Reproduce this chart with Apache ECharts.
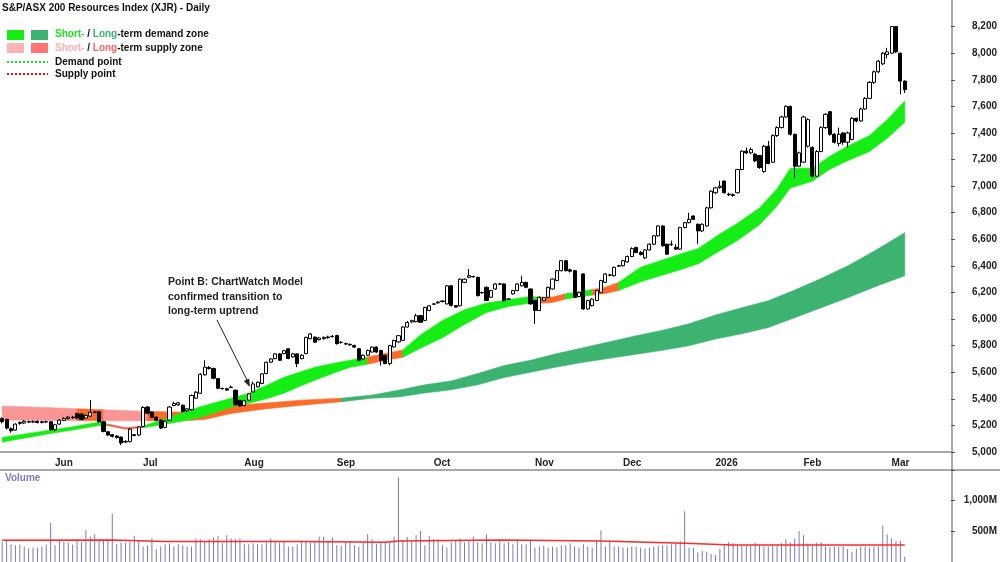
<!DOCTYPE html>
<html>
<head>
<meta charset="utf-8">
<script src="https://cdn.jsdelivr.net/npm/echarts@6/dist/echarts.min.js"></script>
<style>
html, body { margin: 0; padding: 0; background: #fff; }
#chart { width: 1000px; height: 562px; }
</style>
</head>
<body>
<div id="chart"></div>
<script>
// daily candles, [open, close, low, high]
const ohlc = [
  [5250,5228,5215,5262],[5245,5180,5170,5250],[5175,5160,5145,5185],[5165,5210,5160,5215],[5215,5222,5205,5230],
  [5218,5232,5212,5240],[5228,5225,5218,5236],[5226,5230,5220,5238],[5230,5222,5215,5240],[5222,5228,5215,5235],
  [5228,5226,5218,5236],[5228,5168,5160,5232],[5168,5205,5155,5212],[5210,5240,5205,5248],[5238,5252,5232,5262],
  [5250,5262,5245,5270],[5262,5258,5250,5272],[5290,5255,5248,5296],[5285,5245,5240,5292],[5255,5275,5250,5280],
  [5270,5298,5262,5390],[5298,5302,5290,5310],[5302,5228,5222,5306],[5228,5155,5148,5232],[5152,5128,5120,5158],
  [5130,5118,5110,5136],[5120,5110,5100,5128],[5112,5068,5052,5116],[5075,5080,5068,5088],[5078,5172,5072,5180],
  [5130,5125,5118,5135],[5128,5188,5122,5192],[5192,5335,5185,5345],[5338,5292,5285,5345],[5300,5262,5255,5305],
  [5262,5240,5232,5268],[5240,5180,5172,5245],[5185,5232,5178,5240],[5240,5338,5235,5345],[5350,5364,5345,5378],
  [5355,5370,5348,5376],[5352,5305,5298,5358],[5310,5325,5300,5332],[5318,5425,5312,5432],[5405,5450,5400,5458],
  [5442,5585,5438,5592],[5580,5638,5575,5690],[5636,5628,5620,5648],[5628,5555,5548,5634],[5552,5480,5472,5556],
  [5478,5476,5470,5485],[5476,5466,5460,5482],[5488,5486,5480,5500],[5465,5355,5348,5470],[5388,5346,5340,5392],
  [5350,5385,5342,5392],[5390,5438,5385,5442],[5452,5512,5448,5530],[5490,5525,5485,5530],[5515,5588,5510,5592],
  [5590,5675,5585,5680],[5676,5700,5670,5706],[5702,5738,5698,5742],[5738,5690,5685,5745],[5740,5762,5735,5768],
  [5776,5703,5698,5782],[5715,5738,5710,5745],[5738,5665,5638,5742],[5702,5728,5698,5735],[5740,5862,5736,5868],
  [5852,5888,5848,5895],[5864,5826,5820,5870],[5845,5858,5838,5866],[5852,5862,5845,5870],[5865,5860,5852,5875],
  [5870,5868,5860,5880],[5876,5815,5808,5882],[5826,5824,5815,5832],[5815,5812,5805,5822],[5810,5806,5798,5816],
  [5801,5789,5782,5808],[5777,5690,5682,5782],[5700,5728,5695,5735],[5728,5764,5722,5770],[5752,5789,5748,5795],
  [5789,5752,5745,5795],[5764,5690,5651,5768],[5727,5665,5660,5732],[5665,5800,5652,5806],[5790,5839,5785,5845],
  [5828,5875,5822,5880],[5840,5940,5835,5946],[5940,5975,5935,5985],[5978,5988,5972,5995],[5980,6025,5975,6040],
  [6026,5976,5970,6030],[5990,6088,5985,6092],[6064,6100,6060,6106],[6112,6114,6105,6120],[6122,6128,6115,6134],
  [6136,6132,6125,6142],[6114,6250,6110,6256],[6250,6102,6095,6256],[6101,6090,6084,6106],[6100,6300,6095,6306],
  [6276,6300,6270,6306],[6314,6326,6308,6376],[6320,6318,6312,6326],[6314,6176,6170,6318],[6200,6198,6190,6206],
  [6239,6140,6135,6245],[6164,6214,6160,6220],[6226,6264,6220,6270],[6262,6265,6255,6272],[6264,6139,6132,6268],
  [6150,6150,6145,6158],[6189,6214,6185,6220],[6214,6264,6210,6270],[6250,6276,6245,6326],[6276,6239,6232,6282],
  [6226,6114,6108,6230],[6139,6064,5964,6144],[6064,6164,6060,6170],[6140,6160,6135,6165],[6164,6239,6160,6244],
  [6226,6301,6222,6306],[6289,6364,6285,6370],[6364,6439,6358,6445],[6439,6364,6358,6445],[6370,6360,6350,6380],
  [6364,6164,6158,6370],[6170,6200,6165,6206],[6339,6076,6070,6345],[6076,6139,6070,6145],[6100,6150,6095,6156],
  [6139,6214,6135,6220],[6201,6289,6196,6295],[6276,6339,6272,6345],[6330,6332,6322,6340],[6326,6389,6320,6395],
  [6398,6401,6392,6408],[6401,6439,6396,6445],[6430,6470,6425,6478],[6470,6530,6465,6540],[6538,6500,6495,6545],
  [6500,6485,6478,6512],[6460,6520,6451,6526],[6520,6563,6515,6570],[6563,6626,6558,6632],[6626,6700,6620,6705],
  [6700,6551,6545,6705],[6563,6488,6482,6568],[6560,6563,6550,6590],[6540,6526,6520,6563],[6526,6688,6520,6694],
  [6688,6725,6682,6730],[6725,6750,6720,6800],[6775,6750,6745,6780],[6713,6663,6563,6718],[6663,6713,6655,6720],
  [6700,6837,6695,6845],[6837,6962,6830,6968],[6950,6987,6940,6995],[6990,7000,6980,7040],[7038,6950,6945,7042],
  [6940,6935,6925,6950],[6935,6930,6920,6945],[6950,7125,6945,7130],[7125,7263,7120,7270],[7263,7250,7240,7290],
  [7250,7275,7240,7290],[7240,7190,7180,7250],[7230,7140,7130,7235],[7110,7300,7100,7310],[7300,7170,7165,7340],
  [7180,7380,7175,7390],[7380,7440,7370,7450],[7440,7520,7435,7530],[7520,7600,7515,7608],[7600,7390,7380,7605],
  [7390,7150,7060,7395],[7150,7250,7145,7260],[7180,7520,7175,7530],[7300,7500,7290,7510],[7290,7075,7065,7300],
  [7075,7260,7070,7270],[7260,7440,7255,7450],[7440,7540,7430,7550],[7560,7390,7380,7565],[7390,7330,7320,7400],
  [7320,7390,7300,7440],[7400,7330,7310,7405],[7330,7400,7290,7410],[7350,7510,7345,7520],[7510,7490,7480,7515],
  [7490,7580,7485,7590],[7580,7660,7575,7670],[7660,7780,7655,7790],[7780,7860,7770,7870],[7860,7940,7850,7950],
  [7920,8000,7910,8010],[7990,8010,7960,8040],[8000,8200,7995,8205],[8200,8010,8000,8205],[8000,7790,7690,8005],
  [7790,7725,7700,7795]
];

// daily volume, millions
const volume = [
  328,371,290,274,285,253,220,231,237,253, 285,640,274,344,328,317,285,371,328,516,
  414,452,371,344,355,790,290,317,317,328, 425,344,253,274,387,210,253,290,306,253,
  290,274,253,253,382,371,328,371,398,425, 317,435,382,371,387,290,290,306,290,290,
  317,382,328,317,328,253,253,290,328,344, 344,344,414,414,328,398,274,263,328,344,
  274,253,317,452,371,290,317,317,317,414, 1382,344,409,344,435,505,274,425,371,371,
  274,237,317,344,382,317,344,414,317,306, 452,317,306,360,
  306,328,290,371,290,290,360,237,253,263, 237,253,237,274,274,306,253,237,290,253,
  237,344,516,253,328,253,253,237,237,253, 253,237,220,237,253,263,274,274,290,306,
  344,828,237,237,156,183,167,129,113,210, 274,328,306,274,274,274,274,317,274,253,
  253,274,274,306,371,317,382,505,435,306, 274,317,328,253,237,253,253,253,210,167,
  220,253,253,237,253,253,597,452,382,344, 344,86
];

// volume average line (red), knots
const volAvgIdx = [0, 25, 37, 68, 87, 90, 113, 136, 155, 166, 205];
const volAvg = [355, 360, 333, 333, 322, 344, 360, 344, 306, 279, 279];

// short-term zone edges, knots
const stIdx = [0,6,11,16,22,24,28,32,38,45,52,56,60,64,68,71,75,79,83,87,91,95,100,105,110,115,120,122,125,128,131,134,137,140,145,151,154,158,163,167,172,176,179,184,188,192,197,201,205];
const stLow = [5075,5110,5140,5165,5200,5198,5172,5182,5215,5260,5337,5367,5400,5442,5500,5540,5590,5637,5660,5690,5712,5780,5860,5960,6050,6095,6120,6118,6125,6150,6165,6180,6192,6215,6280,6340,6370,6415,6513,6590,6710,6850,6985,7037,7127,7190,7260,7360,7480];
const stHigh = [5110,5140,5165,5190,5225,5210,5182,5196,5262,5340,5405,5442,5500,5562,5605,5637,5665,5690,5715,5740,5768,5880,5990,6070,6120,6145,6170,6165,6165,6190,6205,6222,6240,6275,6390,6455,6490,6528,6640,6720,6835,6980,7135,7135,7225,7300,7380,7500,7640];
const stZones = [[0,24,'demand'],[24,32,'supply'],[32,83,'demand'],[83,91,'neutral'],[91,122,'demand'],[122,128,'neutral'],[128,134,'demand'],[134,140,'neutral'],[140,205,'demand']];

// long-term zone edges, knots
const ltIdx = [0,10,17,23,33,40,46,52,60,68,77,84,90,96,102,108,114,120,126,132,138,144,150,156,162,168,174,180,186,192,198,205];
const ltLow = [5240,5238,5236,5235,5235,5232,5245,5290,5325,5352,5378,5405,5414,5444,5468,5505,5560,5600,5640,5675,5705,5735,5765,5800,5850,5890,5936,6010,6085,6160,6240,6326];
const ltHigh = [5345,5335,5325,5318,5305,5300,5312,5350,5368,5390,5405,5428,5465,5505,5535,5590,5650,5690,5740,5785,5830,5875,5915,5965,6030,6085,6138,6218,6305,6400,6510,6650];
const ltZones = [[0,17,'supply'],[17,23,'neutral'],[23,33,'supply'],[33,77,'neutral'],[77,205,'demand']];

// x axis: first trading day of each month
const monthStarts = [12, 32, 55, 76, 98, 121, 141, 162, 182, 202];
const monthLabels = ['Jun', 'Jul', 'Aug', 'Sep', 'Oct', 'Nov', 'Dec', '2026', 'Feb', 'Mar'];
const slotCount = 216;

const FONT = '"Liberation Sans", Arial, sans-serif';
const stColors = { demand: '#14ee14', supply: '#ff5a4a', neutral: '#ff6a28' };
const ltColors = { demand: '#3cb371', supply: '#f99595', neutral: '#ff6a28' };

const slots = [];
for (let i = 0; i < slotCount; i++) slots.push(String(i));

function zoneSeries(idx, lo, hi, zones, colors, z) {
  return {
    type: 'custom',
    xAxisIndex: 0,
    yAxisIndex: 0,
    silent: true,
    z: z,
    data: zones.map(zn => [zn[0], lo[idx.indexOf(zn[0])]]),
    renderItem: function (params, api) {
      const zn = zones[params.dataIndex];
      const lower = [], upper = [];
      idx.forEach((k, j) => {
        if (k >= zn[0] && k <= zn[1]) {
          lower.push(api.coord([k, lo[j]]));
          upper.push(api.coord([k, hi[j]]));
        }
      });
      return {
        type: 'polygon',
        shape: { points: lower.concat(upper.reverse()) },
        style: { fill: colors[zn[2]], stroke: colors[zn[2]], lineWidth: 0.6 }
      };
    }
  };
}

const chart = echarts.init(document.getElementById('chart'));

const labelStyle = { fontFamily: FONT, fontWeight: 'bold', fontSize: 10, color: '#222' };

const option = {
  animation: false,
  backgroundColor: '#fff',
  grid: [
    { left: 0, right: 48, top: -2, bottom: 110 },
    { left: 0, right: 48, top: 470, bottom: -1 }
  ],
  xAxis: [
    {
      type: 'category', gridIndex: 0, data: slots, boundaryGap: true,
      axisLine: { lineStyle: { color: '#8a8a8a', width: 1.5 } },
      axisTick: { interval: (i) => monthStarts.includes(i), length: 4, lineStyle: { color: '#777' } },
      axisLabel: Object.assign({
        interval: (i) => monthStarts.includes(i),
        formatter: (v) => monthLabels[monthStarts.indexOf(Number(v))] || '',
        align: 'left', margin: 6
      }, labelStyle),
      splitLine: { show: false }
    },
    {
      type: 'category', gridIndex: 1, data: slots, boundaryGap: true,
      axisLine: { show: false }, axisTick: { show: false }, axisLabel: { show: false }
    }
  ],
  yAxis: [
    {
      type: 'value', gridIndex: 0, position: 'right', min: 5000, max: 8400, interval: 200,
      axisLine: { show: false },
      axisTick: { show: true, length: 4, lineStyle: { color: '#555' } },
      axisLabel: Object.assign({
        align: 'right', margin: 46, showMaxLabel: false,
        formatter: (v) => v.toLocaleString('en-US')
      }, labelStyle),
      splitLine: { show: false }
    },
    {
      type: 'value', gridIndex: 1, position: 'right', min: 0, max: 1500, interval: 500,
      axisLine: { show: false },
      axisTick: { show: true, length: 4, lineStyle: { color: '#555' } },
      axisLabel: Object.assign({
        align: 'right', margin: 46,
        formatter: (v) => (v === 0 || v === 1500) ? '' : v.toLocaleString('en-US') + 'M'
      }, labelStyle),
      splitLine: { show: false }
    }
  ],
  series: [
    zoneSeries(ltIdx, ltLow, ltHigh, ltZones, ltColors, 1),
    zoneSeries(stIdx, stLow, stHigh, stZones, stColors, 2),
    {
      type: 'candlestick', xAxisIndex: 0, yAxisIndex: 0, data: ohlc, barWidth: 3.6, z: 5,
      itemStyle: { color: '#fff', color0: '#000', borderColor: '#000', borderColor0: '#000', borderWidth: 1 }
    },
    {
      type: 'bar', xAxisIndex: 1, yAxisIndex: 1, data: volume, barWidth: 1, silent: true,
      itemStyle: { color: '#7b7bb9' }
    },
    {
      type: 'line', xAxisIndex: 1, yAxisIndex: 1, silent: true, showSymbol: false, z: 4,
      data: volAvgIdx.map((k, i) => [k, volAvg[i]]),
      lineStyle: { color: '#ff2a2a', width: 1.5 }
    }
  ],
  graphic: [
    { type: 'line', shape: { x1: 952, y1: 0, x2: 952, y2: 562 }, style: { stroke: '#555', lineWidth: 1 } },
    { type: 'line', shape: { x1: 0, y1: 470, x2: 1000, y2: 470 }, style: { stroke: '#555', lineWidth: 1 } },
    { type: 'text', x: 2, y: 3, style: { text: 'S&P/ASX 200 Resources Index (XJR) - Daily', font: 'bold 10px ' + FONT, fill: '#111' } },
    { type: 'rect', shape: { x: 7, y: 30, width: 17, height: 10 }, style: { fill: '#14ee14' } },
    { type: 'rect', shape: { x: 31, y: 30, width: 17, height: 10 }, style: { fill: '#3cb371' } },
    { type: 'rect', shape: { x: 7, y: 43, width: 17, height: 10 }, style: { fill: '#ffb4b4' } },
    { type: 'rect', shape: { x: 31, y: 43, width: 17, height: 10 }, style: { fill: '#ff7575' } },
    { type: 'line', shape: { x1: 7, y1: 62, x2: 48, y2: 62 }, style: { stroke: '#22dd22', lineWidth: 2, lineDash: [2, 2] } },
    { type: 'line', shape: { x1: 7, y1: 74, x2: 48, y2: 74 }, style: { stroke: '#dd1111', lineWidth: 2, lineDash: [2, 2] } },
    {
      type: 'text', x: 55, y: 29,
      style: {
        text: '{a|Short-} / {b|Long}-term demand zone',
        font: 'bold 10px ' + FONT, fill: '#111',
        rich: { a: { fill: '#22e022', font: 'bold 10px ' + FONT }, b: { fill: '#3cb371', font: 'bold 10px ' + FONT } }
      }
    },
    {
      type: 'text', x: 55, y: 43,
      style: {
        text: '{a|Short-} / {b|Long}-term supply zone',
        font: 'bold 10px ' + FONT, fill: '#111',
        rich: { a: { fill: '#ffb0b0', font: 'bold 10px ' + FONT }, b: { fill: '#ff6464', font: 'bold 10px ' + FONT } }
      }
    },
    { type: 'text', x: 55, y: 57, style: { text: 'Demand point', font: 'bold 10px ' + FONT, fill: '#111' } },
    { type: 'text', x: 55, y: 69, style: { text: 'Supply point', font: 'bold 10px ' + FONT, fill: '#111' } },
    {
      type: 'text', x: 168, y: 275, z: 10,
      style: { text: 'Point B: ChartWatch Model\nconfirmed transition to\nlong-term uptrend', font: 'bold 10.5px ' + FONT, fill: '#222', lineHeight: 14.5 }
    },
    { type: 'line', z: 10, shape: { x1: 217, y1: 320, x2: 248, y2: 382 }, style: { stroke: '#222', lineWidth: 1 } },
    { type: 'polygon', z: 10, shape: { points: [[250, 387], [243.8, 381.1], [249.2, 378.5]] }, style: { fill: '#222' } },
    { type: 'text', x: 5, y: 473, style: { text: 'Volume', font: 'bold 10px ' + FONT, fill: '#7b7bb9' } }
  ]
};

chart.setOption(option);
</script>
</body>
</html>
